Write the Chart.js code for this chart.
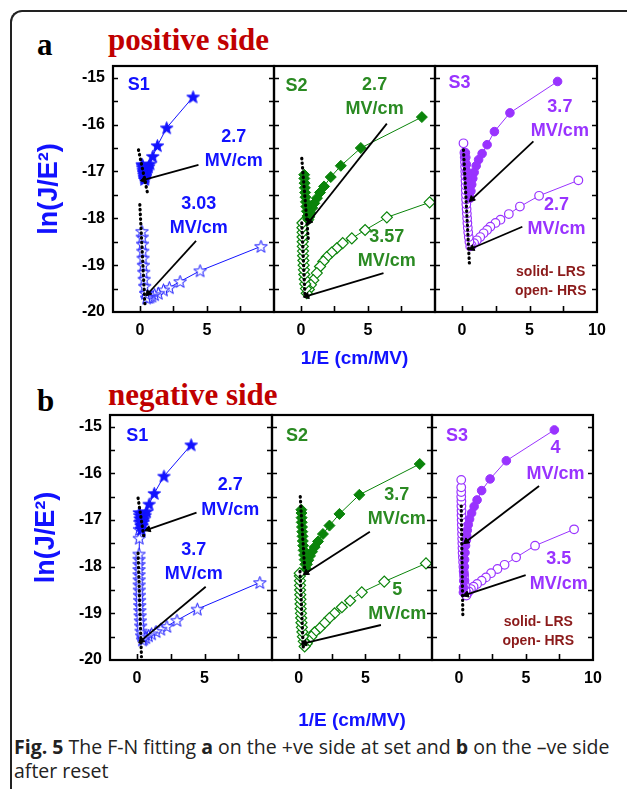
<!DOCTYPE html>
<html>
<head>
<meta charset="utf-8">
<script src="https://cdn.jsdelivr.net/npm/chart.js@4.4.0/dist/chart.umd.min.js"></script>
<style>
  body { margin: 0; width: 627px; height: 789px; overflow: hidden; position: relative; background: #fff; }
  canvas { position: absolute; }
  .frame { position: absolute; left: 10px; top: 10px; width: 700px; height: 900px;
           border-left: 2px solid #222; border-top: 2px solid #222; border-top-left-radius: 12px; }
  .tag { position: absolute; font-family: "Liberation Serif", serif; font-weight: bold; font-size: 31px; line-height: 30px; white-space: nowrap; }
  .side { color: #c00000; }
  .caption { position: absolute; left: 14px; top: 735px; font-family: "Open Sans", sans-serif; font-size: 19.5px;
             line-height: 24px; color: #222; white-space: nowrap; }
</style>
</head>
<body>
<div class="frame"></div>
<div class="tag" style="left:37px;top:30px">a</div>
<div class="tag side" style="left:108px;top:25px">positive side</div>
<div class="tag" style="left:37px;top:386px">b</div>
<div class="tag side" style="left:108px;top:380px">negative side</div>
<div class="caption"><b>Fig. 5</b> The F-N fitting <b>a</b> on the +ve side at set and <b>b</b> on the –ve side<br>after reset</div>
<script>
const FONT = '"Liberation Sans", Arial, sans-serif';
const BLUE = '#1212ff';
const GREEN = '#0a840a';
const GREEN_TXT = '#2a8a22';
const PURPLE = '#9933ff';
const DARKRED = '#8b1a1a';

// tick labels
const yTickLabels = [-20, -19, -18, -17, -16, -15];
const xTicksShort = [0, 5];
const xTicksLong = [0, 5, 10];

// ---- (a) positive side ----
const aS1Lrs = [[3.97,-15.41],[2.0,-16.07],[1.31,-16.45],[0.96,-16.68],[0.76,-16.84],[0.65,-16.9],[0.57,-16.95],[0.5,-17.0],[0.45,-17.05],[0.41,-17.1],[0.38,-17.14],[0.36,-17.17],[0.33,-17.12],[0.3,-17.07],[0.27,-17.02],[0.25,-16.97],[0.22,-16.92],[0.2,-16.88],[0.18,-16.85]];
const aS1Hrs = [[9.03,-18.6],[4.49,-19.12],[3.0,-19.35],[2.2,-19.48],[1.76,-19.53],[1.38,-19.6],[1.1,-19.63],[0.9,-19.66],[0.75,-19.68],[0.62,-19.69],[0.5,-19.7],[0.42,-19.6],[0.36,-19.45],[0.32,-19.3],[0.29,-19.15],[0.26,-19.0],[0.24,-18.85],[0.22,-18.7],[0.2,-18.55],[0.18,-18.4],[0.16,-18.28]];
const aS1Fit1 = [[-0.1,-16.54],[0.6,-17.5]];
const aS1Fit2 = [[0.0,-17.71],[0.39,-19.89]];
const aS1Arrow1 = [[4.37,-16.86],[0.3,-17.18]];
const aS1Arrow2 = [[4.19,-18.48],[0.63,-19.6]];

const aS2Lrs = [[9.02,-15.84],[4.47,-16.5],[2.98,-16.88],[2.23,-17.12],[1.73,-17.32],[1.43,-17.45],[1.2,-17.57],[1.0,-17.68],[0.85,-17.78],[0.72,-17.88],[0.63,-17.97],[0.56,-18.03],[0.5,-17.95],[0.45,-17.85],[0.41,-17.75],[0.38,-17.65],[0.35,-17.55],[0.32,-17.45],[0.3,-17.35],[0.28,-17.25],[0.26,-17.15],[0.25,-17.07]];
const aS2Hrs = [[9.6,-17.66],[6.41,-17.98],[4.79,-18.25],[3.8,-18.43],[3.12,-18.53],[2.68,-18.64],[2.3,-18.73],[1.93,-18.83],[1.68,-18.92],[1.43,-19.03],[1.19,-19.17],[0.93,-19.32],[0.75,-19.42],[0.6,-19.52],[0.44,-19.6],[0.38,-19.5],[0.33,-19.4],[0.29,-19.3],[0.26,-19.2],[0.23,-19.1],[0.21,-19.0],[0.19,-18.9],[0.17,-18.8],[0.16,-18.7],[0.15,-18.6],[0.14,-18.5],[0.13,-18.4],[0.13,-18.3],[0.12,-18.2],[0.12,-18.1]];
const aS2Fit1 = [[0.07,-16.72],[0.56,-18.46]];
const aS2Fit2 = [[0.07,-18.1],[0.31,-19.67]];
const aS2Arrow1 = [[6.41,-15.98],[0.63,-18.07]];
const aS2Arrow2 = [[6.16,-19.17],[0.44,-19.66]];

const aS3Lrs = [[7.08,-15.08],[3.55,-15.75],[2.4,-16.15],[1.86,-16.43],[1.49,-16.62],[1.23,-16.75],[1.05,-16.88],[0.9,-17.02],[0.8,-17.15],[0.72,-17.28],[0.66,-17.42],[0.61,-17.57],[0.52,-17.45],[0.45,-17.3],[0.4,-17.15],[0.36,-17.0],[0.32,-16.85],[0.28,-16.7],[0.25,-16.6]];
const aS3Hrs = [[8.62,-17.19],[5.71,-17.52],[4.29,-17.75],[3.47,-17.91],[2.85,-18.03],[2.48,-18.1],[2.1,-18.18],[1.86,-18.25],[1.6,-18.32],[1.35,-18.4],[1.1,-18.47],[0.9,-18.53],[0.72,-18.58],[0.61,-18.6],[0.55,-18.5],[0.5,-18.4],[0.46,-18.3],[0.43,-18.2],[0.4,-18.1],[0.38,-18.0],[0.36,-17.9],[0.34,-17.8],[0.32,-17.7],[0.3,-17.6],[0.29,-17.5],[0.28,-17.4],[0.27,-17.3],[0.26,-17.2],[0.25,-17.1],[0.24,-17.0],[0.23,-16.9],[0.22,-16.8],[0.2,-16.7],[0.18,-16.6],[0.11,-16.4]];
const aS3Fit = [[0.11,-16.54],[0.56,-19.03]];
const aS3Arrow1 = [[5.29,-16.36],[0.74,-17.59]];
const aS3Arrow2 = [[4.47,-18.18],[0.74,-18.64]];

// ---- (b) negative side ----
const bS1Lrs = [[4.01,-15.39],[2.0,-16.06],[1.28,-16.43],[0.9,-16.66],[0.71,-16.82],[0.6,-16.9],[0.5,-16.98],[0.42,-17.05],[0.37,-17.12],[0.33,-17.2],[0.3,-17.12],[0.26,-17.04],[0.23,-16.97],[0.2,-16.9],[0.17,-16.84]];
const bS1Hrs = [[9.1,-18.34],[4.47,-18.91],[2.96,-19.15],[2.21,-19.28],[1.76,-19.34],[1.41,-19.39],[1.08,-19.44],[0.85,-19.48],[0.65,-19.52],[0.5,-19.55],[0.4,-19.57],[0.34,-19.48],[0.3,-19.38],[0.27,-19.27],[0.25,-19.16],[0.23,-19.05],[0.21,-18.94],[0.2,-18.83],[0.19,-18.72],[0.18,-18.61],[0.17,-18.5],[0.16,-18.39],[0.16,-18.28],[0.15,-18.17],[0.15,-18.06],[0.15,-17.95],[0.15,-17.84],[0.15,-17.73],[0.17,-17.39],[0.18,-17.2],[0.2,-17.05]];
const bS1Fit1 = [[0.08,-16.53],[0.5,-17.35]];
const bS1Fit2 = [[0.08,-17.71],[0.33,-19.93]];
const bS1Arrow1 = [[4.41,-16.84],[0.83,-17.2]];
const bS1Arrow2 = [[5.09,-18.43],[0.33,-19.58]];

const bS2Lrs = [[9.08,-15.8],[4.55,-16.46],[3.06,-16.87],[2.31,-17.12],[1.82,-17.3],[1.45,-17.46],[1.2,-17.58],[1.0,-17.68],[0.85,-17.77],[0.72,-17.86],[0.62,-17.95],[0.57,-18.05],[0.5,-17.95],[0.45,-17.85],[0.41,-17.75],[0.37,-17.65],[0.34,-17.55],[0.31,-17.45],[0.29,-17.35],[0.27,-17.25],[0.25,-17.15],[0.23,-17.05],[0.22,-16.95],[0.21,-16.85],[0.2,-16.78]];
const bS2Hrs = [[9.55,-17.93],[6.42,-18.32],[4.73,-18.55],[3.86,-18.73],[3.24,-18.87],[2.69,-19.0],[2.31,-19.1],[1.94,-19.21],[1.57,-19.32],[1.19,-19.41],[0.95,-19.5],[0.75,-19.58],[0.6,-19.65],[0.45,-19.71],[0.38,-19.6],[0.32,-19.5],[0.28,-19.4],[0.24,-19.3],[0.21,-19.2],[0.19,-19.1],[0.17,-19.0],[0.15,-18.9],[0.14,-18.8],[0.13,-18.7],[0.12,-18.6],[0.11,-18.5],[0.1,-18.4],[0.1,-18.3],[0.09,-18.2],[0.08,-18.14]];
const bS2Fit1 = [[0.12,-16.5],[0.45,-18.05]];
const bS2Fit2 = [[0.1,-18.1],[0.35,-19.78]];
const bS2Arrow1 = [[5.34,-17.25],[0.57,-18.13]];
const bS2Arrow2 = [[6.17,-19.25],[0.45,-19.64]];

const bS3Lrs = [[7.12,-15.07],[3.54,-15.73],[2.33,-16.12],[1.7,-16.37],[1.36,-16.57],[1.14,-16.71],[0.95,-16.85],[0.8,-16.98],[0.7,-17.1],[0.63,-17.22],[0.58,-17.33],[0.56,-17.43],[0.5,-17.55],[0.46,-17.7],[0.43,-17.85],[0.41,-18.0],[0.39,-18.15],[0.37,-18.3],[0.35,-18.45],[0.34,-18.55]];
const bS3Hrs = [[8.59,-17.2],[5.68,-17.55],[4.27,-17.8],[3.41,-17.96],[2.88,-18.05],[2.4,-18.14],[2.02,-18.23],[1.7,-18.3],[1.36,-18.37],[1.1,-18.43],[0.9,-18.48],[0.75,-18.53],[0.62,-18.58],[0.56,-18.62],[0.5,-18.5],[0.46,-18.4],[0.42,-18.3],[0.39,-18.2],[0.36,-18.1],[0.34,-18.0],[0.32,-17.9],[0.3,-17.8],[0.28,-17.7],[0.27,-17.6],[0.26,-17.5],[0.25,-17.4],[0.24,-17.3],[0.23,-17.2],[0.22,-17.1],[0.21,-17.0],[0.2,-16.9],[0.2,-16.8],[0.19,-16.7],[0.19,-16.6],[0.18,-16.5],[0.18,-16.4],[0.18,-16.3],[0.18,-16.14]];
const bS3Fit = [[0.18,-16.7],[0.3,-19.07]];
const bS3Arrow1 = [[5.98,-16.27],[0.56,-17.46]];
const bS3Arrow2 = [[4.98,-18.18],[0.56,-18.6]];

// filled / open five point star used as point image
function starImage(fill, stroke) {
  const c = document.createElement('canvas');
  c.width = 15; c.height = 15;
  const g = c.getContext('2d');
  g.beginPath();
  for (let i = 0; i < 10; i++) {
    const r = i % 2 ? 2.7 : 6.6;
    const a = -Math.PI / 2 + i * Math.PI / 5;
    g.lineTo(7.5 + r * Math.cos(a), 8 + r * Math.sin(a));
  }
  g.closePath();
  g.fillStyle = fill;
  g.fill();
  g.strokeStyle = stroke;
  g.lineWidth = 1;
  g.stroke();
  return c;
}

const markers = {
  star: { solid: starImage(BLUE, BLUE), open: starImage('#fff', BLUE), radius: 6 },
  diamond: { solid: 'rectRot', open: 'rectRot', radius: 5.5 },
  circle: { solid: 'circle', open: 'circle', radius: 4.3 }
};

function toXY(arr) {
  return arr.map(p => ({ x: p[0], y: p[1] }));
}

function arrowAngle(ctx) {
  const ch = ctx.chart, d = ctx.dataset.data;
  if (!ch.scales || !ch.scales.x) return 0;
  const dx = ch.scales.x.getPixelForValue(d[1].x) - ch.scales.x.getPixelForValue(d[0].x);
  const dy = ch.scales.y.getPixelForValue(d[1].y) - ch.scales.y.getPixelForValue(d[0].y);
  return Math.atan2(dx, -dy) * 180 / Math.PI;
}

// box, inward ticks and text notes
const framePlugin = {
  id: 'frame',
  afterDatasetsDraw(chart, args, opts) {
    const { ctx, chartArea: a, scales: { x, y } } = chart;
    ctx.save();
    ctx.strokeStyle = '#000';
    ctx.lineWidth = 1.6;
    ctx.beginPath();
    for (let k = 1; -20 + k * 0.5 <= -15; k++) {
      const py = Math.round(y.getPixelForValue(-20 + k * 0.5)) + 0.5;
      ctx.moveTo(a.left, py); ctx.lineTo(a.left + 5, py);
      ctx.moveTo(a.right, py); ctx.lineTo(a.right - 5, py);
    }
    for (let k = 0; k * 2.5 < 10; k++) {
      const px = Math.round(x.getPixelForValue(k * 2.5)) + 0.5;
      ctx.moveTo(px, a.bottom); ctx.lineTo(px, a.bottom - 6);
    }
    ctx.stroke();
    ctx.lineWidth = 2.2;
    ctx.strokeRect(a.left, a.top, a.right - a.left, a.bottom - a.top);

    ctx.textBaseline = 'middle';
    for (const n of opts.notes || []) {
      ctx.fillStyle = n.color;
      ctx.font = 'bold ' + (n.size || 18) + 'px ' + FONT;
      ctx.textAlign = n.align || 'center';
      const px = x.getPixelForValue(n.x), py = y.getPixelForValue(n.y);
      n.lines.forEach((t, i) => ctx.fillText(t, px, py + i * (n.gap || 24)));
    }
    ctx.restore();
  }
};

const plots = [
  { area: [113, 66, 274, 312], color: BLUE, txt: BLUE, marker: 'star', lrs: aS1Lrs, hrs: aS1Hrs,
    fits: [aS1Fit1, aS1Fit2], arrows: [aS1Arrow1, aS1Arrow2], xTicks: xTicksShort, yLabels: true,
    notes: [{ lines: ['S1'], x: -0.9, y: -15.15, align: 'left' },
            { lines: ['2.7', 'MV/cm'], x: 7.0, y: -16.26 },
            { lines: ['3.03', 'MV/cm'], x: 4.4, y: -17.69 }] },
  { area: [274, 66, 435, 312], color: GREEN, txt: GREEN_TXT, marker: 'diamond', lrs: aS2Lrs, hrs: aS2Hrs,
    fits: [aS2Fit1, aS2Fit2], arrows: [aS2Arrow1, aS2Arrow2], xTicks: xTicksShort, xTitle: 22,
    notes: [{ lines: ['S2'], x: -1.15, y: -15.18, align: 'left' },
            { lines: ['2.7', 'MV/cm'], x: 5.5, y: -15.15 },
            { lines: ['3.57', 'MV/cm'], x: 6.4, y: -18.41 }] },
  { area: [435, 66, 597, 312], color: PURPLE, txt: PURPLE, marker: 'circle', lrs: aS3Lrs, hrs: aS3Hrs,
    fits: [aS3Fit], arrows: [aS3Arrow1, aS3Arrow2], xTicks: xTicksLong,
    notes: [{ lines: ['S3'], x: -1.0, y: -15.12, align: 'left' },
            { lines: ['3.7', 'MV/cm'], x: 7.25, y: -15.62 },
            { lines: ['2.7', 'MV/cm'], x: 7.0, y: -17.72 },
            { lines: ['solid- LRS', 'open- HRS'], x: 6.57, y: -19.15, gap: 19, size: 14, color: DARKRED }] },
  { area: [110, 415, 272, 660], color: BLUE, txt: BLUE, marker: 'star', lrs: bS1Lrs, hrs: bS1Hrs,
    fits: [bS1Fit1, bS1Fit2], arrows: [bS1Arrow1, bS1Arrow2], xTicks: xTicksShort, yLabels: true,
    notes: [{ lines: ['S1'], x: -0.8, y: -15.21, align: 'left' },
            { lines: ['2.7', 'MV/cm'], x: 6.9, y: -16.24, gap: 25 },
            { lines: ['3.7', 'MV/cm'], x: 4.2, y: -17.65 }] },
  { area: [272, 415, 432, 660], color: GREEN, txt: GREEN_TXT, marker: 'diamond', lrs: bS2Lrs, hrs: bS2Hrs,
    fits: [bS2Fit1, bS2Fit2], arrows: [bS2Arrow1, bS2Arrow2], xTicks: xTicksShort, xTitle: 8,
    notes: [{ lines: ['S2'], x: -0.95, y: -15.21, align: 'left' },
            { lines: ['3.7', 'MV/cm'], x: 7.35, y: -16.46 },
            { lines: ['5', 'MV/cm'], x: 7.4, y: -18.5 }] },
  { area: [432, 415, 593, 660], color: PURPLE, txt: PURPLE, marker: 'circle', lrs: bS3Lrs, hrs: bS3Hrs,
    fits: [bS3Fit], arrows: [bS3Arrow1, bS3Arrow2], xTicks: xTicksLong,
    notes: [{ lines: ['S3'], x: -0.95, y: -15.2, align: 'left' },
            { lines: ['4', 'MV/cm'], x: 7.2, y: -15.45, gap: 26 },
            { lines: ['3.5', 'MV/cm'], x: 7.45, y: -17.84, gap: 25 },
            { lines: ['solid- LRS', 'open- HRS'], x: 5.92, y: -19.19, gap: 19, size: 14, color: DARKRED }] }
];

const PAD_L = 100, PAD_T = 30, PAD_R = 30, PAD_B = 80;

function makePlot(p) {
  const [l, t, r, b] = p.area;
  const cv = document.createElement('canvas');
  cv.width = (r - l) + PAD_L + PAD_R;
  cv.height = (b - t) + PAD_T + PAD_B;
  cv.style.left = (l - PAD_L) + 'px';
  cv.style.top = (t - PAD_T) + 'px';
  document.body.appendChild(cv);

  const m = markers[p.marker];
  p.notes.forEach(n => { if (!n.color) n.color = p.txt; });

  const datasets = [];
  p.arrows.forEach(a => datasets.push({
    data: toXY(a), showLine: true, borderColor: '#000', borderWidth: 1.8,
    pointRadius: [0, 3.6], pointStyle: 'triangle', pointBackgroundColor: '#000',
    pointBorderColor: '#000', pointBorderWidth: 1, pointRotation: arrowAngle
  }));
  p.fits.forEach(f => datasets.push({
    data: toXY(f), showLine: true, borderColor: '#000', borderWidth: 3.2,
    borderDash: [0.5, 4.2], borderCapStyle: 'round', pointRadius: 0
  }));
  datasets.push({
    label: 'LRS', data: toXY(p.lrs), showLine: true, borderColor: p.color, borderWidth: 1,
    pointStyle: m.solid, pointRadius: m.radius, pointBackgroundColor: p.color,
    pointBorderColor: p.color, pointBorderWidth: 1
  });
  datasets.push({
    label: 'HRS', data: toXY(p.hrs), showLine: true, borderColor: p.color, borderWidth: 1,
    pointStyle: m.open, pointRadius: m.radius, pointBackgroundColor: '#fff',
    pointBorderColor: p.color, pointBorderWidth: 1.2
  });

  new Chart(cv, {
    type: 'scatter',
    data: { datasets },
    options: {
      responsive: false,
      animation: false,
      devicePixelRatio: 1,
      layout: { padding: { left: 0, top: PAD_T, right: PAD_R, bottom: 0 } },
      plugins: {
        legend: { display: false },
        tooltip: { enabled: false },
        frame: { notes: p.notes }
      },
      scales: {
        x: {
          type: 'linear', min: -2, max: 10,
          grid: { display: false, drawTicks: false },
          border: { display: false },
          afterBuildTicks: s => { s.ticks = p.xTicks.map(v => ({ value: v })); },
          afterFit: s => { s.height = PAD_B; },
          ticks: { color: '#000', padding: 9, maxRotation: 0, autoSkip: false,
                   font: { family: FONT, size: 16, weight: 'bold' } },
          title: { display: !!p.xTitle, text: '1/E (cm/MV)', color: BLUE,
                   font: { family: FONT, size: 19, weight: 'bold' },
                   padding: { top: 0, bottom: p.xTitle || 0 } }
        },
        y: {
          type: 'linear', min: -20, max: -14.75,
          grid: { display: false, drawTicks: false },
          border: { display: false },
          afterBuildTicks: s => { s.ticks = yTickLabels.map(v => ({ value: v })); },
          afterFit: s => { s.width = PAD_L; },
          ticks: { display: !!p.yLabels, color: '#000', padding: 8,
                   font: { family: FONT, size: 16, weight: 'bold' } },
          title: { display: !!p.yLabels, text: 'ln(J/E²)', color: BLUE,
                   font: { family: FONT, size: 27, weight: 'bold' },
                   padding: { top: 20, bottom: 0 } }
        }
      }
    },
    plugins: [framePlugin]
  });
}

plots.forEach(makePlot);
</script>
</body>
</html>
